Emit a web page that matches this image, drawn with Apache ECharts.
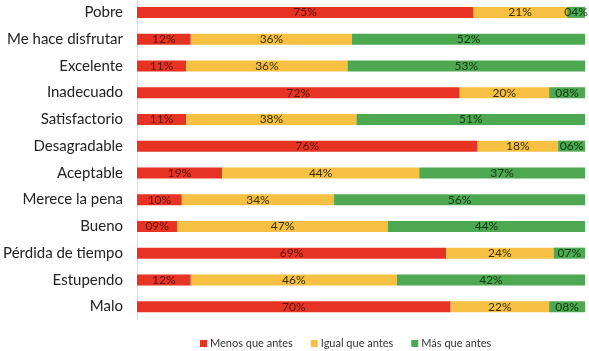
<!DOCTYPE html>
<html>
<head>
<meta charset="utf-8">
<script src="https://cdn.jsdelivr.net/npm/echarts@6/dist/echarts.min.js"></script>
<style>
  html, body { margin: 0; padding: 0; background: #fff; }
  #chart { width: 589px; height: 351px; }
</style>
</head>
<body>
<div id="chart"></div>
<script>
var categories = ['Pobre', 'Me hace disfrutar', 'Excelente', 'Inadecuado', 'Satisfactorio', 'Desagradable',
    'Aceptable', 'Merece la pena', 'Bueno', 'Pérdida de tiempo', 'Estupendo', 'Malo'];
var menos = [75, 12, 11, 72, 11, 76, 19, 10, 9, 69, 12, 70];
var igual = [21, 36, 36, 20, 38, 18, 44, 34, 47, 24, 46, 22];
var mas = [4, 52, 53, 8, 51, 6, 37, 56, 44, 7, 42, 8];
var seriesNames = ['Menos que antes', 'Igual que antes', 'Más que antes'];

var chart = echarts.init(document.getElementById('chart'));

function pct(p) {
    var v = p.value;
    return (v < 10 ? '0' + v : v) + '%';
}

function makeSeries(name, data, color, textColor) {
    return {
        name: name,
        type: 'bar',
        stack: 'total',
        barWidth: 11,
        itemStyle: { color: color },
        label: {
            show: true,
            position: 'inside',
            formatter: pct,
            color: textColor,
            fontFamily: 'Lato',
            fontSize: 12
        },
        data: data
    };
}

chart.setOption({
    animation: false,
    textStyle: { fontFamily: 'Lato' },
    grid: { left: 137, right: 4, top: -1, bottom: 31, containLabel: false, outerBoundsMode: 'none' },
    legend: {
        top: 333,
        left: 195,
        itemWidth: 7,
        itemHeight: 7,
        itemGap: 18,
        icon: 'rect',
        textStyle: { fontSize: 11, color: '#333', fontFamily: 'Lato', padding: [0, 0, 0, -2] },
        data: seriesNames
    },
    xAxis: {
        type: 'value',
        min: 0,
        max: 100,
        show: false
    },
    yAxis: {
        type: 'category',
        inverse: true,
        data: categories,
        axisTick: { show: false },
        axisLine: { show: true, lineStyle: { color: '#d9d9d9', width: 1 } },
        axisLabel: { fontSize: 15, color: '#222', margin: 14, fontFamily: 'Lato' }
    },
    series: [
        makeSeries(seriesNames[0], menos, '#e63323', '#5a130c'),
        makeSeries(seriesNames[1], igual, '#f6c143', '#3a2c00'),
        makeSeries(seriesNames[2], mas, '#4ea751', '#0e3a10')
    ]
});
</script>
</body>
</html>
